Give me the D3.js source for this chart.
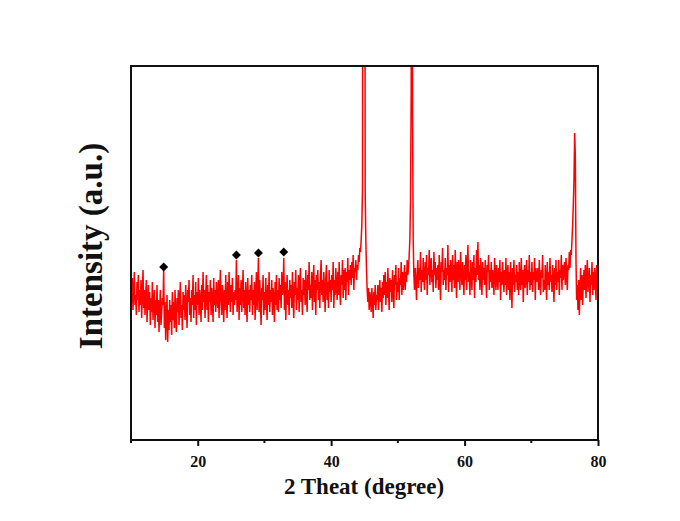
<!DOCTYPE html>
<html><head><meta charset="utf-8">
<script src="https://cdn.jsdelivr.net/npm/d3@7"></script>
<style>body{margin:0;background:#fff;}svg{display:block;}</style>
</head><body>
<script>
// XRD scan: 2θ from 10 to 80 deg, step 0.1 deg (one row per degree)
const scanStart = 10, scanStep = 0.1;
const intensity = [
155,138,162,130,150,168,135,145,125,158,
140,165,128,150,135,160,122,148,170,132,
150,125,145,160,118,138,155,130,148,115,
142,128,158,120,135,150,112,140,125,155,
118,140,108,132,150,115,128,142,135,170,
112,138,100,125,145,98,130,110,140,118,
135,105,148,120,138,112,150,125,108,142,
128,150,115,140,158,122,135,110,148,130,
145,120,155,132,112,150,138,160,125,142,
118,150,135,165,122,145,130,158,115,148,
135,162,125,150,140,118,155,130,168,138,
150,122,145,165,130,155,118,148,138,160,
125,152,140,118,162,135,150,128,158,142,
132,160,122,148,170,138,125,155,142,118,
150,130,165,140,122,158,135,168,145,128,
155,138,162,125,148,135,150,140,180,128,
140,165,120,152,135,160,128,148,170,132,
150,125,158,140,118,162,135,150,128,155,
140,165,125,150,135,158,120,145,168,130,
150,182,128,160,138,115,152,140,165,125,
148,130,162,140,120,155,135,168,128,150,
138,160,125,152,142,118,158,135,165,130,
150,128,162,140,155,132,168,145,150,182,
130,158,120,148,165,135,150,125,160,142,
155,132,168,140,122,158,145,170,130,152,
140,165,128,155,172,138,150,125,162,145,
160,135,170,148,128,165,150,178,140,155,
142,168,130,158,175,138,160,125,165,150,
170,140,158,132,165,180,145,160,138,168,
150,128,162,175,140,158,132,170,148,160,
138,165,150,178,132,160,145,172,155,140,
168,145,178,150,135,165,155,180,142,170,
150,172,140,168,158,182,145,170,160,175,
155,178,162,185,150,172,168,180,160,175,
170,185,178,192,188,200,215,250,1000,1000,
1000,250,200,170,150,138,152,130,148,140,
128,152,138,122,148,135,155,130,145,140,
155,130,148,160,138,152,128,158,142,165,
145,168,135,158,142,172,150,130,162,148,
160,138,170,150,132,165,155,175,140,158,
148,172,140,162,155,178,145,168,150,160,
175,150,168,158,180,165,172,185,200,240,
350,1000,330,200,165,150,172,158,140,168,
180,152,172,160,188,148,170,158,182,162,
150,178,160,185,145,172,165,190,155,175,
182,158,170,148,188,165,178,152,172,160,
175,150,185,162,140,178,168,192,155,170,
160,182,150,172,165,195,148,175,158,180,
170,148,185,160,175,152,190,165,142,178,
158,180,165,150,188,170,155,178,162,145,
175,160,185,150,172,195,158,168,145,180,
165,150,178,160,185,142,172,158,190,165,
198,160,175,150,182,165,145,178,160,172,
155,180,162,142,175,168,185,150,170,158,
178,152,170,160,145,182,165,150,175,160,
150,172,158,180,140,168,155,178,162,148,
170,155,182,145,165,175,150,168,140,178,
160,132,172,155,180,148,165,158,175,150,
168,145,178,160,150,182,155,170,138,165,
175,152,162,180,145,170,158,185,150,168,
155,178,148,168,160,182,140,172,158,165,
172,150,180,158,145,170,162,185,148,160,
150,175,160,140,178,155,168,150,182,158,
165,148,175,160,138,172,155,180,150,168,
158,180,145,170,162,185,150,175,160,172,
178,155,182,165,150,175,170,188,172,190,
185,200,215,235,260,307,285,180,140,155,
130,160,125,150,172,140,165,135,158,170,
150,175,142,165,180,148,160,172,138,165,
155,178,145,168,150,172,160,140,175,158,
160
];
const markerTheta = [14.9, 25.8, 29.1, 32.9];
const markerIntensity = [173, 185, 187, 188];
const xTicks = [20, 40, 60, 80];
const xMinorTicks = [10, 30, 50, 70];
const xLabel = "2 Theat (degree)";
const yLabel = "Intensity (a.u.)";

const W = 680, H = 521;
const m = {left: 131, top: 66, right: 82, bottom: 81};
const iw = W - m.left - m.right, ih = H - m.top - m.bottom;
const serif = "Liberation Serif, Times New Roman, serif";

const data = intensity.map((v, i) => ({t: scanStart + i * scanStep, v}));

const svg = d3.select("body").append("svg").attr("width", W).attr("height", H);
const g = svg.append("g").attr("transform", `translate(${m.left},${m.top})`);

const x = d3.scaleLinear().domain([10, 80]).range([0, iw]);
const y = d3.scaleLinear().domain([0, 374]).range([ih, 0]);

svg.append("defs").append("clipPath").attr("id", "clip")
  .append("rect").attr("width", iw).attr("height", ih);

g.append("path").datum(data)
  .attr("clip-path", "url(#clip)")
  .attr("fill", "none").attr("stroke", "#ff0000").attr("stroke-width", 1.5)
  .attr("stroke-linejoin", "miter")
  .attr("d", d3.line().x(d => x(d.t)).y(d => y(d.v)));

const sym = d3.symbol(d3.symbolSquare, 40);
g.selectAll(".mk").data(markerTheta.map((t, i) => ({t, v: markerIntensity[i]})))
  .enter().append("path")
  .attr("d", sym)
  .attr("fill", "#000")
  .attr("transform", d => `translate(${x(d.t)},${y(d.v)}) rotate(45)`);

// frame
g.append("rect").attr("width", iw).attr("height", ih)
  .attr("fill", "none").attr("stroke", "#111").attr("stroke-width", 2);

// x axis
const xa = g.append("g").attr("transform", `translate(0,${ih})`)
  .call(d3.axisBottom(x).tickValues(xTicks).tickSize(6).tickFormat(d3.format("d")));
xa.select(".domain").remove();
xa.selectAll("line").attr("stroke", "#111").attr("stroke-width", 2);
xa.selectAll("text").attr("font-family", serif)
  .attr("font-weight", "bold").attr("font-size", 16).attr("fill", "#111")
  .attr("y", 0).attr("dy", 0).attr("transform", "translate(0,27)");
g.selectAll(".minor").data(xMinorTicks).enter().append("line")
  .attr("x1", d => x(d)).attr("x2", d => x(d))
  .attr("y1", ih).attr("y2", ih + 3).attr("stroke", "#111").attr("stroke-width", 2);

svg.append("text").attr("x", 364).attr("y", 494)
  .attr("text-anchor", "middle").attr("font-family", serif)
  .attr("font-weight", "bold").attr("font-size", 23).attr("fill", "#111").text(xLabel);

svg.append("text").attr("transform", `translate(102,246) rotate(-90)`)
  .attr("text-anchor", "middle").attr("font-family", serif)
  .attr("font-weight", "bold").attr("font-size", 33).attr("fill", "#111").text(yLabel);
</script>
</body></html>
